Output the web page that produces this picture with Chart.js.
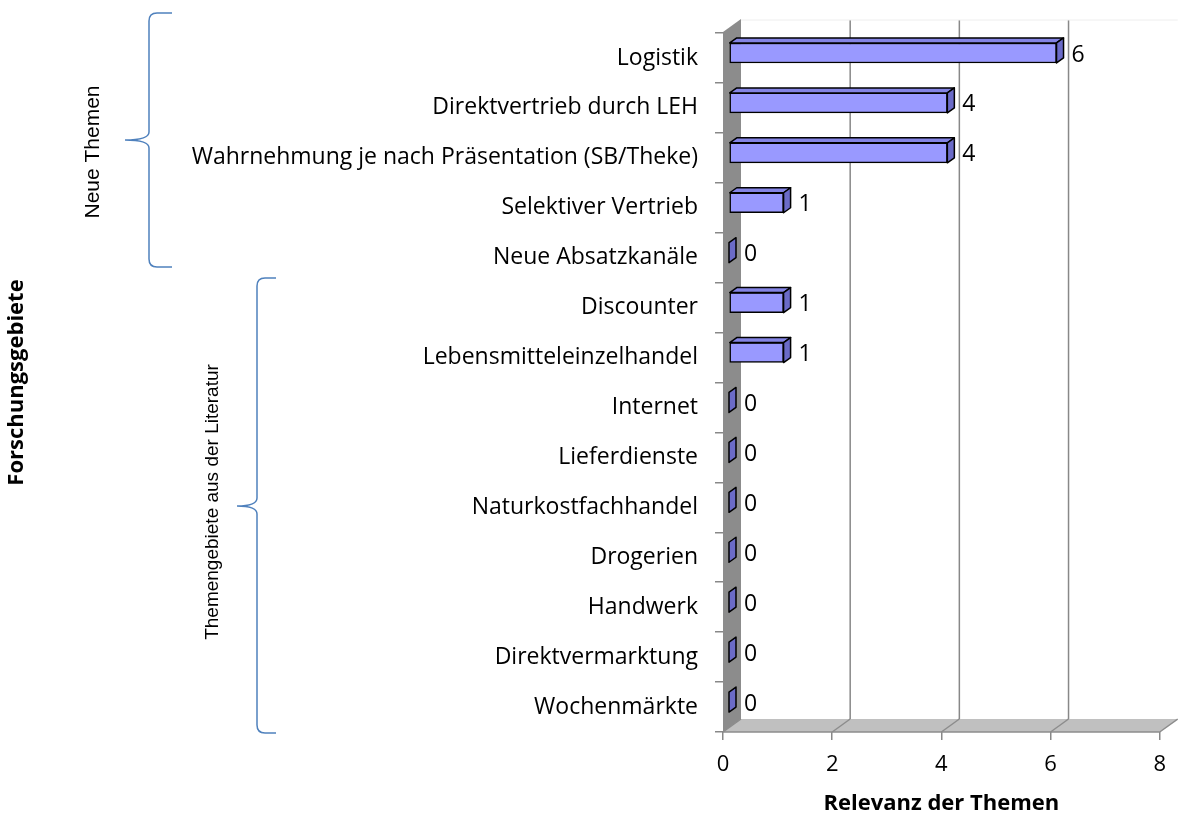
<!DOCTYPE html>
<html>
<head>
<meta charset="utf-8">
<script src="https://cdn.jsdelivr.net/npm/chart.js@4/dist/chart.umd.min.js"></script>
<style>
  html, body { margin: 0; padding: 0; background: #fff; }
  #wrap { width: 1178px; height: 817px; }
</style>
</head>
<body>
<div id="wrap"><canvas id="chartRelevanz" width="1178" height="817"></canvas></div>
<script>
var categories = ['Logistik', 'Direktvertrieb durch LEH', 'Wahrnehmung je nach Präsentation (SB/Theke)',
  'Selektiver Vertrieb', 'Neue Absatzkanäle', 'Discounter', 'Lebensmitteleinzelhandel', 'Internet',
  'Lieferdienste', 'Naturkostfachhandel', 'Drogerien', 'Handwerk', 'Direktvermarktung', 'Wochenmärkte'];
var relevanz = [6, 4, 4, 1, 0, 1, 1, 0, 0, 0, 0, 0, 0, 0];
var xTicks = [0, 2, 4, 6, 8];
var groupLabels = ['Neue Themen', 'Themengebiete aus der Literatur'];

// 3D depth of the Excel-style walls and the bars
var depthX = 18, depthY = -13;
var barDX = 6, barDY = -5, faceDX = 7, faceDY = -5;

var textFont = "'Open Sans', sans-serif";

var wallsPlugin = {
  id: 'walls',
  beforeDatasetsDraw: function(chart) {
    var ctx = chart.ctx, a = chart.chartArea, xs = chart.scales.x;
    ctx.save();
    // back wall gridlines (inner ones only)
    ctx.strokeStyle = '#888888';
    ctx.lineWidth = 1.5;
    xTicks.forEach(function(v, i) {
      if (i === 0 || i === xTicks.length - 1) return;
      var x = xs.getPixelForValue(v) + depthX;
      ctx.beginPath();
      ctx.moveTo(x, a.top + depthY);
      ctx.lineTo(x, a.bottom + depthY);
      ctx.stroke();
    });
    ctx.strokeStyle = '#eeeeee';
    ctx.lineWidth = 1;
    ctx.beginPath();
    ctx.moveTo(a.left + depthX, a.top + depthY);
    ctx.lineTo(a.right + depthX, a.top + depthY);
    ctx.stroke();
    // floor
    ctx.fillStyle = '#c0c0c0';
    ctx.beginPath();
    ctx.moveTo(a.left, a.bottom);
    ctx.lineTo(a.left + depthX, a.bottom + depthY);
    ctx.lineTo(a.right + depthX, a.bottom + depthY);
    ctx.lineTo(a.right, a.bottom);
    ctx.closePath();
    ctx.fill();
    ctx.strokeStyle = '#8c8c8c';
    ctx.lineWidth = 1.5;
    ctx.beginPath();
    ctx.moveTo(a.left, a.bottom);
    ctx.lineTo(a.right, a.bottom);
    ctx.stroke();
    xTicks.forEach(function(v) {
      var x = xs.getPixelForValue(v);
      ctx.beginPath();
      ctx.moveTo(x, a.bottom);
      ctx.lineTo(x + depthX, a.bottom + depthY);
      ctx.stroke();
    });
    // left wall
    ctx.fillStyle = '#8c8c8c';
    ctx.beginPath();
    ctx.moveTo(a.left, a.top - 1);
    ctx.lineTo(a.left + depthX, a.top + depthY - 1);
    ctx.lineTo(a.left + depthX, a.bottom + depthY);
    ctx.lineTo(a.left, a.bottom);
    ctx.closePath();
    ctx.fill();
    ctx.restore();

    // bars sit a bit inside the depth
    ctx.save();
    ctx.translate(barDX, barDY);
  },
  afterDatasetsDraw: function(chart) {
    var ctx = chart.ctx;
    var meta = chart.getDatasetMeta(0);
    meta.data.forEach(function(bar, i) {
      var p = bar.getProps(['x', 'y', 'base', 'height'], true);
      var x0 = p.base, x1 = p.x, top = p.y - p.height / 2, bottom = p.y + p.height / 2;
      ctx.lineWidth = 1.5;
      ctx.strokeStyle = '#000000';
      ctx.lineJoin = 'round';
      if (x1 > x0) {
        // top face
        ctx.fillStyle = '#8484e4';
        ctx.beginPath();
        ctx.moveTo(x0, top);
        ctx.lineTo(x0 + faceDX, top + faceDY);
        ctx.lineTo(x1 + faceDX, top + faceDY);
        ctx.lineTo(x1, top);
        ctx.closePath();
        ctx.fill();
        ctx.stroke();
      }
      // side face
      ctx.fillStyle = '#6b6bc8';
      ctx.beginPath();
      ctx.moveTo(x1, top);
      ctx.lineTo(x1 + faceDX, top + faceDY);
      ctx.lineTo(x1 + faceDX, bottom + faceDY);
      ctx.lineTo(x1, bottom);
      ctx.closePath();
      ctx.fill();
      ctx.stroke();
      // value label
      ctx.fillStyle = '#000000';
      ctx.font = '23px ' + textFont;
      ctx.textAlign = 'left';
      ctx.textBaseline = 'middle';
      ctx.fillText(String(relevanz[i]), x1 + faceDX + 8, p.y + 2);
    });
    ctx.restore();
  }
};

var bracketPlugin = {
  id: 'brackets',
  afterDraw: function(chart) {
    var ctx = chart.ctx;
    function brace(x, yTop, yMid, yBot, tipX, endX) {
      ctx.beginPath();
      ctx.moveTo(endX, yTop);
      ctx.lineTo(x + 8, yTop);
      ctx.quadraticCurveTo(x, yTop, x, yTop + 8);
      ctx.lineTo(x, yMid - 8);
      ctx.quadraticCurveTo(x, yMid, tipX, yMid);
      ctx.quadraticCurveTo(x, yMid, x, yMid + 8);
      ctx.lineTo(x, yBot - 8);
      ctx.quadraticCurveTo(x, yBot, x + 8, yBot);
      ctx.lineTo(endX, yBot);
      ctx.stroke();
    }
    ctx.save();
    ctx.strokeStyle = '#4f81bd';
    ctx.lineWidth = 1.5;
    brace(149, 13, 140, 267, 125, 172);
    brace(257, 278, 506, 733, 237, 276);

    ctx.fillStyle = '#000000';
    ctx.textAlign = 'center';
    ctx.textBaseline = 'middle';
    ctx.font = "21px 'Liberation Sans', Arial, sans-serif";
    ctx.translate(93, 152);
    ctx.rotate(-Math.PI / 2);
    ctx.fillText(groupLabels[0], 0, 0);
    ctx.rotate(Math.PI / 2);
    ctx.font = "19px 'Liberation Sans', Arial, sans-serif";
    ctx.translate(213 - 93, 502 - 152);
    ctx.rotate(-Math.PI / 2);
    ctx.fillText(groupLabels[1], 0, 0);
    ctx.restore();
  }
};

var chartRelevanz = document.getElementById('chartRelevanz');
var myChartBar = new Chart(chartRelevanz, {
  type: 'bar',
  data: {
    labels: categories,
    datasets: [{
      label: 'Relevanz der Themen',
      data: relevanz,
      backgroundColor: '#9999ff',
      borderColor: '#000000',
      borderWidth: 1.5,
      borderSkipped: false,
      barThickness: 20
    }]
  },
  plugins: [wallsPlugin, bracketPlugin],
  options: {
    indexAxis: 'y',
    responsive: false,
    animation: false,
    events: [],
    layout: { padding: { top: 33, right: 12, bottom: 0, left: 0 } },
    plugins: {
      legend: { display: false },
      tooltip: { enabled: false }
    },
    scales: {
      x: {
        min: 0,
        max: 8,
        afterFit: function(scale) { scale.height = 85; },
        afterBuildTicks: function(scale) {
          scale.ticks = xTicks.map(function(v) { return { value: v }; });
        },
        grid: { drawOnChartArea: false, tickLength: 8, color: '#888888', lineWidth: 1.5 },
        border: { display: false },
        ticks: { color: '#000000', padding: 12, font: { family: textFont, size: 22 } },
        title: {
          display: true,
          text: 'Relevanz der Themen',
          color: '#000000',
          padding: { top: 0, bottom: 0 },
          font: { family: textFont, size: 22, weight: 'bold' }
        }
      },
      y: {
        afterFit: function(scale) { scale.width = 723; },
        grid: { drawOnChartArea: false, offset: true, tickLength: 8, color: '#888888', lineWidth: 1.5 },
        border: { display: false },
        ticks: { color: '#000000', padding: 17, font: { family: textFont, size: 23 } },
        title: {
          display: true,
          text: 'Forschungsgebiete',
          color: '#000000',
          padding: { top: 4, bottom: 0 },
          font: { family: textFont, size: 22, weight: 'bold' }
        }
      }
    }
  }
});
</script>
</body>
</html>
